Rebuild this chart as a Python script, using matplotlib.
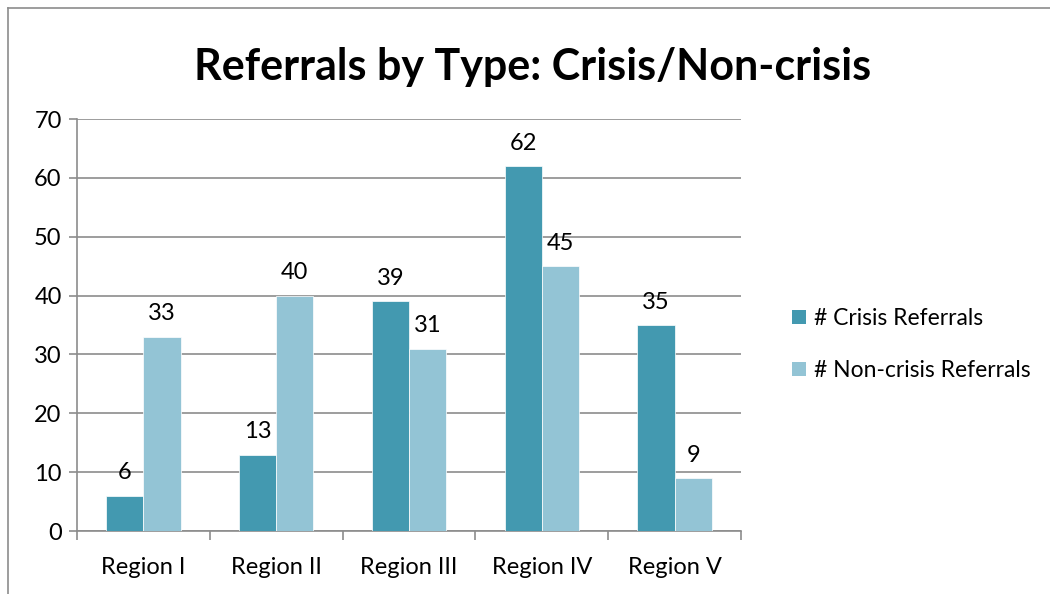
import matplotlib.pyplot as plt
import numpy as np
from matplotlib.lines import Line2D
from matplotlib.patches import Patch

regions = ['Region I', 'Region II', 'Region III', 'Region IV', 'Region V']
crisis = [6, 13, 39, 62, 35]
non_crisis = [33, 40, 31, 45, 9]

plt.rcParams['font.family'] = ['Lato', 'DejaVu Sans']

fig = plt.figure(figsize=(10.5, 5.94), dpi=100)
ax = fig.add_axes([0.0733, 0.106, 0.6324, 0.6936])

x = np.arange(len(regions))
w = 0.28
c1, c2 = '#4399B0', '#93C4D5'
b1 = ax.bar(x - w / 2, crisis, w, color=c1, edgecolor='white', linewidth=0.5, zorder=3)
b2 = ax.bar(x + w / 2, non_crisis, w, color=c2, edgecolor='white', linewidth=0.5, zorder=3)

for bars in (b1, b2):
    for b in bars:
        ax.annotate(f'{int(b.get_height())}', (b.get_x() + b.get_width() / 2, b.get_height()),
                    xytext=(0, 9), textcoords='offset points', ha='center', va='bottom', fontsize=17)

ax.set_xlim(-0.5, len(regions) - 0.5)
ax.set_ylim(0, 70)
ax.set_yticks(range(0, 71, 10))
ax.yaxis.grid(True, color='#8c8c8c', linewidth=1.2, zorder=0)
ax.set_axisbelow(True)
ax.tick_params(axis='y', length=6, color='#8c8c8c', width=1.2, labelsize=17, pad=5)

ax.set_xticks(x)
ax.set_xticklabels(regions, fontsize=17)
ax.tick_params(axis='x', length=0, pad=19)
ax.set_xticks(np.arange(-0.5, len(regions)), minor=True)
ax.tick_params(axis='x', which='minor', length=6.5, color='#8c8c8c', width=1.2)

for s in ['top', 'right']:
    ax.spines[s].set_visible(False)
for s in ['left', 'bottom']:
    ax.spines[s].set_color('#8c8c8c')
    ax.spines[s].set_linewidth(1.2)

fig.text(0.507, 0.888, 'Referrals by Type: Crisis/Non-crisis', ha='center', va='center',
         fontsize=31, fontweight='bold')

handles = [Patch(facecolor=c1, label='# Crisis Referrals'),
           Patch(facecolor=c2, label='# Non-crisis Referrals')]
fig.legend(handles=handles, loc='center left', bbox_to_anchor=(0.735, 0.42), frameon=False,
           fontsize=16.5, handlelength=0.6, handleheight=0.6, handletextpad=0.35, labelspacing=1.35)

# chart border (left and top edges visible)
fig.add_artist(Line2D([0.0076, 0.0076], [0, 0.9865], transform=fig.transFigure, color='#8c8c8c', linewidth=1.2))
fig.add_artist(Line2D([0.0076, 1.0], [0.9865, 0.9865], transform=fig.transFigure, color='#8c8c8c', linewidth=1.2))

fig.savefig('out.png', dpi=100)
